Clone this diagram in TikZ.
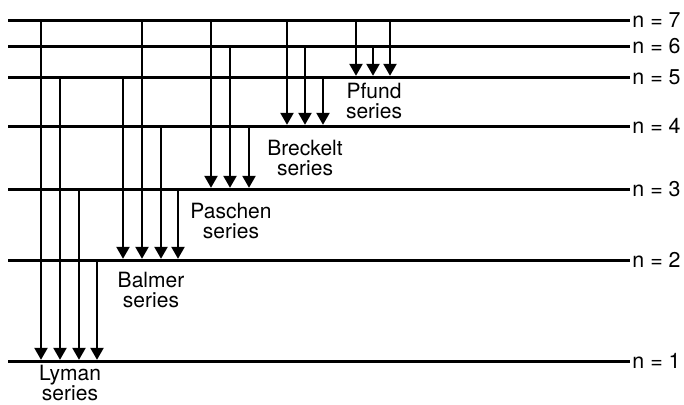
\documentclass[tikz,border=0pt]{standalone}
\usepackage{fontspec}
\setmainfont{TeX Gyre Heros}
\usetikzlibrary{arrows.meta}

\begin{document}
\begin{tikzpicture}[x=0.5pt,y=-0.5pt,
    level/.style={line width=1.5pt},
    trans/.style={line width=1.2pt,-{Triangle[length=6pt,width=6.5pt]},shorten >=0.6pt},
    nlab/.style={anchor=west,inner sep=1pt,font=\fontsize{10.7}{11}\selectfont},
    series/.style={align=center,inner sep=0pt,font=\fontsize{10.5}{10.3}\selectfont}]
	\useasboundingbox (0,0) rectangle (684,404);
    \foreach \n/\y in {7/20,6/46,5/77,4/126,3/189,2/260,1/361}{
      \coordinate (w\n) at (8,\y);
      \node[nlab] (n\n) at (630,\y) {n = \n};
      \draw[level] (w\n) -- (n\n.west);
    }
    \foreach \x/\a/\b in {41/7/1,60/5/1,79/3/1,97/2/1,
        123/5/2,142/7/2,161/4/2,178/3/2,
        211/7/3,230/6/3,249/4/3,
        287/7/4,305/6/4,323/5/4,
        356/7/5,373/6/5,390/7/5}
      \draw[trans] (\x,0 |- w\a) -- (\x,0 |- w\b);
     \node[series] (lyman) at (70,383) {Lyman\\series};
     \node[series] (balmer) at (151,290) {Balmer\\series};
     \node[series] (paschen) at (231,221) {Paschen\\series};
     \node[series] (breckelt) at (305,158) {Breckelt\\series};
     \node[series] (pfund) at (374,101) {Pfund\\series};
\end{tikzpicture}
\end{document}
